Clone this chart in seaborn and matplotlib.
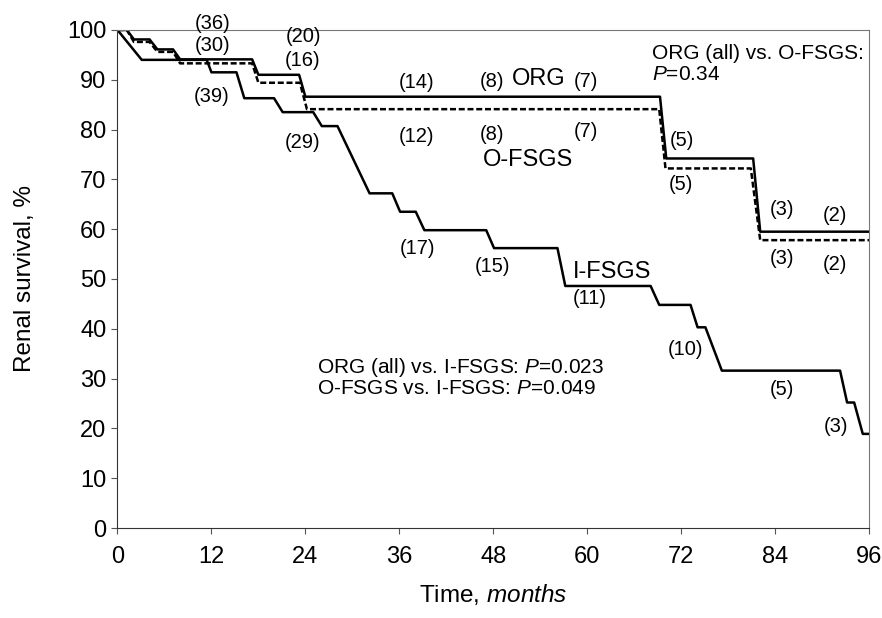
import matplotlib
matplotlib.use("Agg")
import matplotlib.pyplot as plt
import seaborn as sns
import pandas as pd

# Kaplan-Meier style renal survival curves (months, %)
org_t = [0, 1.2, 2.1, 4.1, 5.1, 7.1, 8.0, 17.2, 18.0, 23.2, 24.0, 69.3, 70.1, 81.2, 82.1, 96]
org_s = [100, 100, 98.1, 98.1, 96.1, 96.1, 94.1, 94.1, 91.0, 91.0, 86.6, 86.6, 74.2, 74.2, 59.5, 59.5]

ofsgs_t = [0, 1.2, 2.1, 4.1, 5.1, 7.1, 8.0, 17.2, 18.0, 23.3, 24.2, 69.2, 70.0, 80.9, 82.1, 96]
ofsgs_s = [100, 100, 97.6, 97.6, 95.6, 95.6, 93.3, 93.3, 89.4, 89.4, 84.1, 84.1, 72.2, 72.2, 57.8, 57.8]

ifsgs_t = [0, 3.1, 11.4, 12.0, 15.2, 16.2, 20.0, 21.1, 25.0, 26.1, 28.1, 32.2, 35.1, 36.1, 38.1,
           39.2, 47.1, 48.1, 56.2, 57.2, 68.1, 69.2, 73.2, 74.1, 75.1, 77.2, 92.3, 93.2, 94.1, 95.2, 96]
ifsgs_s = [100, 94.0, 94.0, 91.5, 91.5, 86.3, 86.3, 83.5, 83.5, 80.7, 80.7, 67.2, 67.2, 63.5, 63.5,
           59.8, 59.8, 56.2, 56.2, 48.6, 48.6, 44.8, 44.8, 40.3, 40.3, 31.6, 31.6, 25.2, 25.2, 18.9, 18.9]

# patients at risk labels: (text, month, percent)
risk_labels = ["(36)", "(30)", "(20)", "(16)", "(39)", "(29)", "(14)", "(8)", "(7)", "(12)", "(8)", "(7)",
               "(5)", "(5)", "(3)", "(2)", "(3)", "(2)", "(17)", "(15)", "(11)", "(10)", "(5)", "(3)"]
risk_x = [12.2, 12.2, 23.7, 23.7, 12.0, 23.7, 38.2, 47.9, 59.8, 38.2, 47.9, 59.8,
          72.1, 72.0, 84.9, 91.7, 84.9, 91.7, 38.3, 47.9, 60.3, 72.5, 84.9, 91.8]
risk_y = [101.3, 96.8, 98.7, 93.8, 86.6, 77.4, 89.4, 89.6, 89.6, 78.7, 79.1, 79.6,
          77.9, 69.0, 63.9, 62.7, 54.2, 53.0, 56.2, 52.6, 46.1, 35.9, 27.9, 20.3]

group_names = ["ORG", "O-FSGS", "I-FSGS"]
group_x = [53.8, 52.5, 63.2]
group_y = [90.1, 73.8, 51.5]

x_ticks = list(range(0, 97, 12))
y_ticks = list(range(0, 101, 10))

sns.set_style("white")
plt.rcParams["font.family"] = ["Liberation Sans", "DejaVu Sans"]
plt.rcParams["mathtext.fontset"] = "custom"
plt.rcParams["mathtext.rm"] = "Liberation Sans"
plt.rcParams["mathtext.it"] = "Liberation Sans:italic"
plt.rcParams["text.color"] = "black"
plt.rcParams["axes.labelcolor"] = "black"
plt.rcParams["xtick.color"] = "black"
plt.rcParams["ytick.color"] = "black"

fig = plt.figure(figsize=(8.82, 6.18), dpi=100)
ax = fig.add_axes([0.1332, 0.1456, 0.8521, 0.8059])

curves = pd.concat([
    pd.DataFrame({"t": ifsgs_t, "s": ifsgs_s, "g": "I-FSGS"}),
    pd.DataFrame({"t": org_t, "s": org_s, "g": "ORG"}),
    pd.DataFrame({"t": ofsgs_t, "s": ofsgs_s, "g": "O-FSGS"}),
])

for g, d in curves.groupby("g", sort=False):
    ls = (0, (2.4, 1.1)) if g == "O-FSGS" else "-"
    sns.lineplot(data=d, x="t", y="s", sort=False, estimator=None, color="black",
                 lw=1.8, linestyle=ls, ax=ax, legend=False)

ax.set_xlim(0, 96)
ax.set_ylim(0, 100)
ax.set_xticks(x_ticks)
ax.set_yticks(y_ticks)
ax.tick_params(axis="both", direction="out", length=4, width=0.8, labelsize=17,
               left=True, bottom=True, color="#555555", labelcolor="black")
ax.tick_params(axis="x", pad=9)
ax.tick_params(axis="y", pad=4)
for sp in ax.spines.values():
    sp.set_color("#777777")
    sp.set_linewidth(0.8)
ax.spines["left"].set_color("#333333")
ax.spines["bottom"].set_color("#333333")

ax.set_xlabel("Time, $\\it{months}$", fontsize=17.5, labelpad=10)
ax.set_ylabel("Renal survival, %", fontsize=17.5, labelpad=22)

for txt, x, y in zip(risk_labels, risk_x, risk_y):
    ax.text(x, y, txt, fontsize=14.5, ha="center", va="center", clip_on=False)

for txt, x, y in zip(group_names, group_x, group_y):
    ax.text(x, y, txt, fontsize=17, ha="center", va="center")

ax.text(68.3, 95.3, "ORG (all) vs. O-FSGS:", fontsize=15, ha="left", va="center")
ax.text(68.3, 91.0, "$\\it{P}$=0.34", fontsize=15, ha="left", va="center")
ax.text(25.5, 32.3, "ORG (all) vs. I-FSGS: $\\it{P}$=0.023", fontsize=15, ha="left", va="center")
ax.text(25.5, 28.1, "O-FSGS vs. I-FSGS: $\\it{P}$=0.049", fontsize=15, ha="left", va="center")

fig.savefig("out.png", dpi=100)
